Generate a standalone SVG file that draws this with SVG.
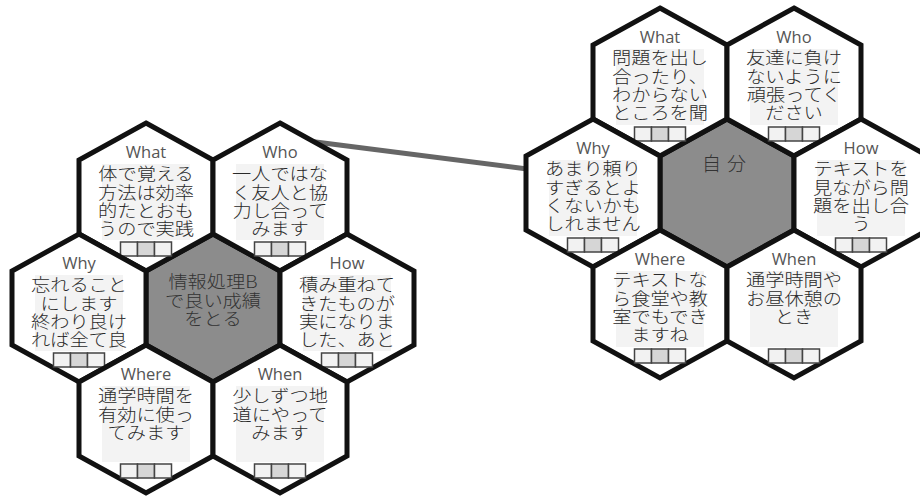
<svg xmlns="http://www.w3.org/2000/svg" xmlns:xlink="http://www.w3.org/1999/xlink" width="920" height="497" viewBox="0 0 920 497">
<style>
.hw{fill:#ffffff;stroke:#111111;stroke-width:5;stroke-linejoin:miter}
.hg{fill:#8c8c8c;stroke:#111111;stroke-width:5;stroke-linejoin:miter}
.tb{fill:#f3f3f3}
.lbl{font-family:"Open Sans","Noto Sans","Liberation Sans",sans-serif;font-size:16.5px;fill:#555555;text-anchor:middle}
.jp{font-family:"Noto Sans CJK JP","Noto Sans CJK SC",sans-serif;font-size:17.5px;font-weight:300;fill:#2a2a2a;text-anchor:middle}
.cen{font-family:"Noto Sans CJK JP","Noto Sans CJK SC",sans-serif;font-size:17.5px;font-weight:300;fill:#333333;text-anchor:middle}
.conn{stroke:#666666;stroke-width:5;fill:none;stroke-linecap:butt}
.cbo{fill:#f2f2f2;stroke:#444444;stroke-width:1.5}
.cbm{fill:#d6d6d6;stroke:#444444;stroke-width:1.5}
</style>
<defs>
<path id="hex" d="M0,-74 L67,-37 L67,37 L0,74 L-67,37 L-67,-37Z"/>
<g id="cb">
<rect class="cbo" x="-25.5" y="45" width="17" height="14"/>
<rect class="cbm" x="-8.5" y="45" width="17" height="14"/>
<rect class="cbo" x="8.5" y="45" width="17" height="14"/>
</g>
</defs>
<rect width="920" height="497" fill="#ffffff"/>

<g id="connectors">
<line class="conn" x1="300" y1="140" x2="535" y2="170"/>
</g>

<!-- Left cluster -->
<g id="L-center" transform="translate(213,308)">
<use href="#hex" class="hg"/>
<text class="cen" transform="scale(1.1,1)"><tspan x="0" y="-20">情報処理B</tspan><tspan x="0" y="-1.5">で良い成績</tspan><tspan x="0" y="17">をとる</tspan></text>
</g>
<g id="L-what" transform="translate(146,197)">
<use href="#hex" class="hw"/>
<rect class="tb" x="-44" y="-33" width="88" height="76"/>
<text class="lbl" y="-39">What</text>
<text class="jp" transform="scale(1.1,1)"><tspan x="0" y="-17">体で覚える</tspan><tspan x="0" y="1.5">方法は効率</tspan><tspan x="0" y="20">的たとおも</tspan><tspan x="0" y="38.5">うので実践</tspan></text>
<use href="#cb"/>
</g>
<g id="L-who" transform="translate(280,197)">
<use href="#hex" class="hw"/>
<rect class="tb" x="-44" y="-33" width="88" height="76"/>
<text class="lbl" y="-39">Who</text>
<text class="jp" transform="scale(1.1,1)"><tspan x="0" y="-17">一人ではな</tspan><tspan x="0" y="1.5">く友人と協</tspan><tspan x="0" y="20">力し合って</tspan><tspan x="0" y="38.5">みます</tspan></text>
<use href="#cb"/>
</g>
<g id="L-why" transform="translate(79,308)">
<use href="#hex" class="hw"/>
<rect class="tb" x="-44" y="-33" width="88" height="76"/>
<text class="lbl" y="-39">Why</text>
<text class="jp" transform="scale(1.1,1)"><tspan x="0" y="-17">忘れること</tspan><tspan x="0" y="1.5">にします</tspan><tspan x="0" y="20">終わり良け</tspan><tspan x="0" y="38.5">れば全て良</tspan></text>
<use href="#cb"/>
</g>
<g id="L-how" transform="translate(347,308)">
<use href="#hex" class="hw"/>
<rect class="tb" x="-44" y="-33" width="88" height="76"/>
<text class="lbl" y="-39">How</text>
<text class="jp" transform="scale(1.1,1)"><tspan x="0" y="-17">積み重ねて</tspan><tspan x="0" y="1.5">きたものが</tspan><tspan x="0" y="20">実になりま</tspan><tspan x="0" y="38.5">した、あと</tspan></text>
<use href="#cb"/>
</g>
<g id="L-where" transform="translate(146,419)">
<use href="#hex" class="hw"/>
<rect class="tb" x="-44" y="-33" width="88" height="76"/>
<text class="lbl" y="-39">Where</text>
<text class="jp" transform="scale(1.1,1)"><tspan x="0" y="-17">通学時間を</tspan><tspan x="0" y="1.5">有効に使っ</tspan><tspan x="0" y="20">てみます</tspan></text>
<use href="#cb"/>
</g>
<g id="L-when" transform="translate(280,419)">
<use href="#hex" class="hw"/>
<rect class="tb" x="-44" y="-33" width="88" height="76"/>
<text class="lbl" y="-39">When</text>
<text class="jp" transform="scale(1.1,1)"><tspan x="0" y="-17">少しずつ地</tspan><tspan x="0" y="1.5">道にやって</tspan><tspan x="0" y="20">みます</tspan></text>
<use href="#cb"/>
</g>

<!-- Right cluster -->
<g id="R-center" transform="translate(727,193)">
<use href="#hex" class="hg"/>
<text class="cen" x="0" y="-22" style="font-size:19px;letter-spacing:6px">自分</text>
</g>
<g id="R-what" transform="translate(660,82)">
<use href="#hex" class="hw"/>
<rect class="tb" x="-44" y="-33" width="88" height="76"/>
<text class="lbl" y="-39">What</text>
<text class="jp" transform="scale(1.1,1)"><tspan x="0" y="-18">問題を出し</tspan><tspan x="0" y="0.5">合ったり、</tspan><tspan x="0" y="19">わからない</tspan><tspan x="0" y="37.5">ところを聞</tspan></text>
<use href="#cb"/>
</g>
<g id="R-who" transform="translate(794,82)">
<use href="#hex" class="hw"/>
<rect class="tb" x="-44" y="-33" width="88" height="76"/>
<text class="lbl" y="-39">Who</text>
<text class="jp" transform="scale(1.1,1)"><tspan x="0" y="-18">友達に負け</tspan><tspan x="0" y="0.5">ないように</tspan><tspan x="0" y="19">頑張ってく</tspan><tspan x="0" y="37.5">ださい</tspan></text>
<use href="#cb"/>
</g>
<g id="R-why" transform="translate(593,193)">
<use href="#hex" class="hw"/>
<rect class="tb" x="-44" y="-33" width="88" height="76"/>
<text class="lbl" y="-39">Why</text>
<text class="jp" transform="scale(1.1,1)"><tspan x="0" y="-18">あまり頼り</tspan><tspan x="0" y="0.5">すぎるとよ</tspan><tspan x="0" y="19">くないかも</tspan><tspan x="0" y="37.5">しれません</tspan></text>
<use href="#cb"/>
</g>
<g id="R-how" transform="translate(861,193)">
<use href="#hex" class="hw"/>
<rect class="tb" x="-44" y="-33" width="88" height="76"/>
<text class="lbl" y="-39">How</text>
<text class="jp" transform="scale(1.1,1)"><tspan x="0" y="-18">テキストを</tspan><tspan x="0" y="0.5">見ながら問</tspan><tspan x="0" y="19">題を出し合</tspan><tspan x="0" y="37.5">う</tspan></text>
<use href="#cb"/>
</g>
<g id="R-where" transform="translate(660,304)">
<use href="#hex" class="hw"/>
<rect class="tb" x="-44" y="-33" width="88" height="76"/>
<text class="lbl" y="-39">Where</text>
<text class="jp" transform="scale(1.1,1)"><tspan x="0" y="-18">テキストな</tspan><tspan x="0" y="0.5">ら食堂や教</tspan><tspan x="0" y="19">室でもでき</tspan><tspan x="0" y="37.5">ますね</tspan></text>
<use href="#cb"/>
</g>
<g id="R-when" transform="translate(794,304)">
<use href="#hex" class="hw"/>
<rect class="tb" x="-44" y="-33" width="88" height="76"/>
<text class="lbl" y="-39">When</text>
<text class="jp" transform="scale(1.1,1)"><tspan x="0" y="-18">通学時間や</tspan><tspan x="0" y="0.5">お昼休憩の</tspan><tspan x="0" y="19">とき</tspan></text>
<use href="#cb"/>
</g>
</svg>
